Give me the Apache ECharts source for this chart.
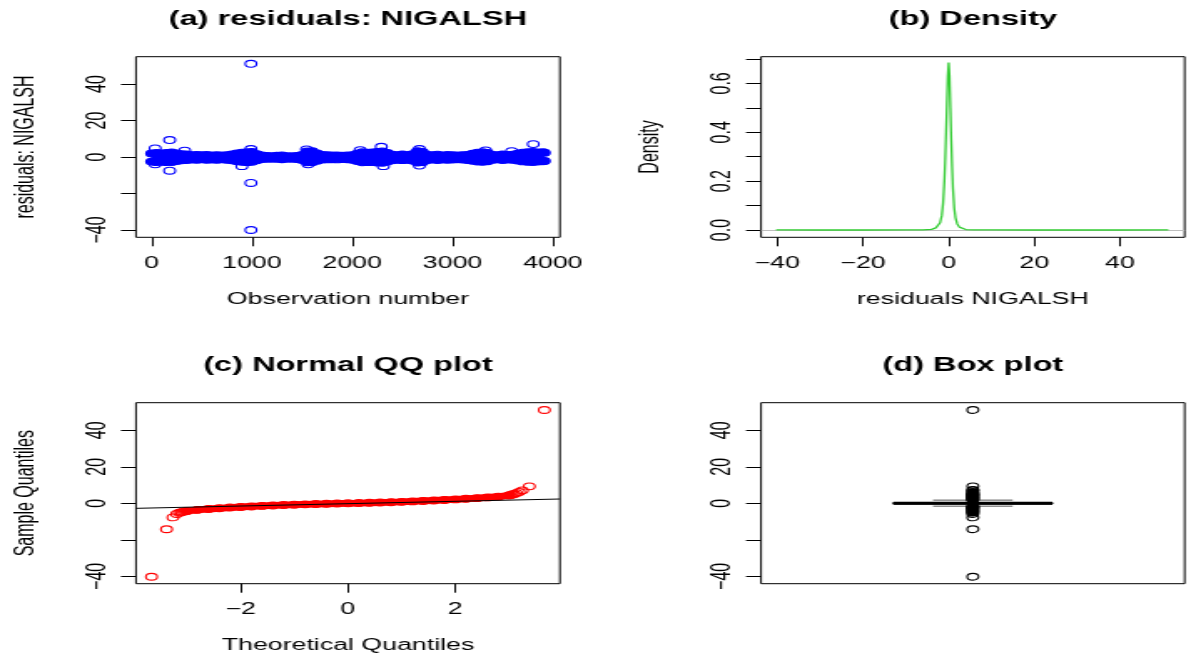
<!DOCTYPE html>
<html><head><meta charset="utf-8">
<script src="https://cdn.jsdelivr.net/npm/echarts@6/dist/echarts.min.js"></script>
<style>
html,body{margin:0;padding:0;background:#fff;overflow:hidden;width:1191px;height:659px}
#chart{width:713px;height:659px;transform:scaleX(1.670407);transform-origin:0 0}
</style></head><body><div id="chart"></div>
<script>
// ---------- data ----------
// (a) residuals vs observation number: envelope of the dense band (circle centres)
const bandObs = [1,50,100,150,200,250,300,350,400,450,500,550,600,650,700,750,800,850,900,950,1000,1050,1100,1150,1200,1250,1300,1350,1400,1450,1500,1550,1600,1650,1700,1750,1800,1850,1900,1950,2000,2050,2100,2150,2200,2250,2300,2350,2400,2450,2500,2550,2600,2650,2700,2750,2800,2850,2900,2950,3000,3050,3100,3150,3200,3250,3300,3350,3400,3450,3500,3550,3600,3650,3700,3750,3800,3850,3900,3915];
const bandUpper = [2.0,2.3,2.0,2.3,2.5,2.0,1.6,1.4,1.0,1.2, 1.0,1.1,0.9,1.0,0.8,1.0,1.4,2.0,2.4,2.6, 2.8,1.6,0.8,0.6,0.5,0.7,0.9,0.5,0.4,0.6, 1.2,3.0,3.2,2.0,1.2,1.0,0.8,0.9,0.7,0.8, 1.0,1.8,2.6,2.4,2.5,2.8,3.0,2.2,1.3,1.0, 1.4,1.0,1.6,3.2,2.8,1.2,1.0,1.3,0.9,1.1, 1.0,0.8,1.0,1.2,1.8,2.4,2.6,2.2,1.2,1.0, 1.4,1.1,1.3,1.8,2.4,2.6,2.8,2.5,2.6,2.4];
const bandLower = [-2.5,-2.8,-2.6,-2.8,-2.7,-2.2,-1.8,-1.6,-1.4,-1.5, -1.3,-1.5,-1.4,-1.5,-1.3,-1.5,-1.8,-2.3,-2.6,-2.8, -2.6,-1.8,-1.1,-1.0,-0.9,-1.0,-1.2,-0.9,-0.9,-1.1, -1.6,-2.9,-2.8,-2.0,-1.4,-1.3,-1.2,-1.3,-1.1,-1.2, -1.5,-2.2,-2.9,-2.8,-2.7,-3.0,-3.1,-2.5,-1.8,-1.5, -1.7,-1.5,-1.9,-3.0,-2.8,-1.6,-1.4,-1.6,-1.4,-1.5, -1.4,-1.2,-1.4,-1.6,-2.0,-2.5,-2.6,-2.3,-1.5,-1.3, -1.6,-1.4,-1.5,-1.9,-2.4,-2.6,-2.7,-2.5,-2.3,-2.2];
// (a) isolated residuals
const outObs = [35,35,180,180,330,900,990,990,990,990,1545,1560,2080,2290,2310,2670,2670,3805,3330,3590];
const outVal = [4.7,-4.0,9.3,-7.5,3.5,-5.0,4.4,51.1,-14.2,-40.0,4.2,-4.0,3.8,5.6,-5.0,4.4,-4.7,7.1,3.6,3.2];

// (b) kernel density
const densX = [-40.3,-30,-20,-10,-6,-4,-3,-2.5,-2,-1.6,-1.3,-1.0,-0.8,-0.6,-0.4,-0.2,0,0.2,0.4,0.6,0.8,1.0,1.3,1.6,2.0,2.5,3,4,6,10,20,30,40,51.3];
const densY = [0.0005,0.0003,0.0003,0.0005,0.001,0.003,0.009,0.016,0.03,0.06,0.11,0.2,0.29,0.4,0.52,0.63,0.685,0.63,0.5,0.37,0.26,0.17,0.09,0.05,0.025,0.012,0.006,0.002,0.0008,0.0004,0.0003,0.0003,0.0003,0.0004];

// (c) normal QQ plot
const qqBandTheo = [-3.0,-2.8,-2.6,-2.4,-2.2,-2.0,-1.8,-1.6,-1.4,-1.2,-1.0,-0.8,-0.6,-0.4,-0.2,0,0.2,0.4,0.6,0.8,1.0,1.2,1.4,1.6,1.8,2.0,2.2,2.4,2.6,2.8,3.0];
const qqBandSample = [-4.2,-3.6,-3.1,-2.7,-2.3,-2.0,-1.7,-1.4,-1.15,-0.95,-0.75,-0.55,-0.4,-0.25,-0.1,0.02,0.15,0.3,0.45,0.62,0.82,1.05,1.3,1.55,1.85,2.15,2.5,2.85,3.25,3.7,4.3];
const qqTailTheo = [-3.66,-3.38,-3.26,-3.19,-3.14,-3.10,-3.06,-3.03,3.03,3.06,3.10,3.14,3.19,3.25,3.38,3.66];
const qqTailSample = [-40.2,-14.2,-7.7,-5.8,-5.1,-4.8,-4.6,-4.4,4.5,4.8,5.1,5.6,6.2,7.1,9.3,51.1];
const qqLineTheo = [-3.95,3.95];
const qqLineSample = [-2.74,2.37];

// (d) box plot: [lower whisker, Q1, median, Q3, upper whisker] and outliers
const boxStats = [-1.55,-0.42,0.02,0.46,1.75];
const boxOutliersCluster = [6.2,5.6,5.1,4.8,4.5,4.2,3.8,3.4,3.0,2.6,2.2,1.9,-1.7,-2.0,-2.3,-2.7,-3.1,-3.6,-4.2,-4.6,-5.1];
const boxOutliersSingle = [51.1,9.3,7.3,7.1,-5.8,-7.7,-14.2,-40.2];

// ticks and labels
const resTicks = [-40,-20,0,20,40];
const resLabels = [-40,0,20,40];
const obsTicks = [0,1000,2000,3000,4000];
const densXTicks = [-40,-20,0,20,40];
const densYTicks = [0,0.1,0.2,0.3,0.4,0.5,0.6,0.7];
const densYLabels = [0,0.2,0.4,0.6];
const qqXTicks = [-2,0,2];

const titles = ['(a) residuals: NIGALSH','(b) Density','(c) Normal QQ plot','(d) Box plot'];

// ---------- layout / style ----------
const FONT = 'Liberation Sans';
const BOX_POS = 1, BOX_HALF = 0.1877, STAPLE_HALF = 0.094;
const RING_R = 3.4, RING_W = 1.1;
const fmtNum = d => v => (v < 0 ? '\u2212' : '') + Math.abs(v).toFixed(d);
const grids = [
  {left:81.4, top:56.7, width:253.8, height:180.6},
  {left:455.6, top:56.7, width:253.6, height:180.6},
  {left:81.4, top:402.7, width:253.8, height:181},
  {left:455.6, top:402.7, width:253.6, height:181}
].map(g => Object.assign({show:true, borderColor:'#000', borderWidth:1, backgroundColor:'transparent', containLabel:false}, g));

function xAx(gi, min, max, ticks, name, dec) {
  return {type:'value', gridIndex:gi, min, max, name, nameLocation:'middle', nameGap:54,
    nameTextStyle:{fontSize:16, color:'#000', fontFamily:FONT},
    axisLine:{show:false, onZero:false}, splitLine:{show:false},
    axisTick:{show:true, length:9, customValues:ticks, lineStyle:{color:'#000', width:1}},
    axisLabel:{show:true, customValues:ticks, margin:18, fontSize:16, color:'#000', fontFamily:FONT, formatter:fmtNum(dec)}};
}
function yAx(gi, min, max, ticks, labels, name, dec) {
  return {type:'value', gridIndex:gi, min, max, name, nameLocation:'middle', nameGap:58,
    nameTextStyle:{fontSize:16, color:'#000', fontFamily:FONT},
    axisLine:{show:false, onZero:false}, splitLine:{show:false},
    axisTick:{show:true, length:9, customValues:ticks, lineStyle:{color:'#000', width:1}},
    axisLabel:{show:true, customValues:labels, rotate:90, margin:15, fontSize:16, color:'#000', fontFamily:FONT, formatter:fmtNum(dec)}};
}

// circles (R pch = 1) drawn through the axes' scales; fill mimics heavy over-plotting
function rings(xi, yi, data, color, z, fill) {
  return {type:'custom', xAxisIndex:xi, yAxisIndex:yi, silent:true, z, data, encode:{x:0, y:1},
    renderItem:(params, api) => {
      const c = api.coord([api.value(0), api.value(1)]);
      return {type:'circle', shape:{cx:c[0], cy:c[1], r:RING_R}, style:{fill:fill || 'none', stroke:color, lineWidth:RING_W}};
    }};
}

const option = {
  animation:false,
  textStyle:{fontFamily:FONT},
  grid: grids,
  xAxis: [
    xAx(0, -156, 4071, obsTicks, 'Observation number', 0),
    xAx(1, -43.8, 55.1, densXTicks, 'residuals NIGALSH', 0),
    xAx(2, -3.95, 3.95, qqXTicks, 'Theoretical Quantiles', 0),
    {type:'value', gridIndex:3, min:0.5, max:1.5, show:false, splitLine:{show:false}, axisLine:{onZero:false}}
  ],
  yAxis: [
    yAx(0, -44, 55, resTicks, resLabels, 'residuals: NIGALSH', 0),
    yAx(1, -0.0296, 0.709, densYTicks, densYLabels, 'Density', 1),
    yAx(2, -44, 55.1, resTicks, resLabels, 'Sample Quantiles', 0),
    yAx(3, -44, 55.1, resTicks, resLabels, '', 0)
  ],
  graphic: titles.map((t, i) => ({
    type:'text', x: (i % 2 === 0 ? 208.3 : 582.4), y: (i < 2 ? 19.5 : 366),
    style:{text:t, fontSize:19.5, fontWeight:'bold', fontFamily:FONT, fill:'#000', align:'center', verticalAlign:'middle'}
  })),
  series: [
    // (a) dense band fill
    {type:'custom', xAxisIndex:0, yAxisIndex:0, silent:true, z:2,
      data:[[bandObs[0], bandUpper[0]]], encode:{x:0, y:1},
      renderItem:(params, api) => {
        const pts = [];
        for (let i = 0; i < bandObs.length; i++) pts.push(api.coord([bandObs[i], bandUpper[i]]));
        for (let i = bandObs.length - 1; i >= 0; i--) pts.push(api.coord([bandObs[i], bandLower[i]]));
        return {type:'polygon', shape:{points:pts}, style:{fill:'#0000FF', stroke:'#0000FF', lineWidth:1}};
      }},
    // (a) band edge circles (over-plotted, so solid)
    rings(0, 0, bandObs.map((x, i) => [x, bandUpper[i]]).concat(bandObs.map((x, i) => [x, bandLower[i]])), '#0000FF', 3, '#0000FF'),
    // (a) isolated residuals
    rings(0, 0, outObs.map((x, i) => [x, outVal[i]]), '#0000FF', 3),
    // (b) density curve
    {type:'line', xAxisIndex:1, yAxisIndex:1, silent:true, z:3, showSymbol:false, symbol:'none',
      lineStyle:{color:'#33CC33', width:1.3}, data: densX.map((x, i) => [x, densY[i]]),
      markLine:{silent:true, symbol:['none','none'], label:{show:false}, z:2,
        lineStyle:{color:'#BEBEBE', type:'solid', width:1}, data:[{yAxis:0}]}},
    // (c) dense part of QQ points: merged band
    {type:'line', xAxisIndex:2, yAxisIndex:2, silent:true, z:3, showSymbol:false, symbol:'none',
      lineStyle:{color:'#FF0000', width:6.8}, data: qqBandTheo.map((x, i) => [x, qqBandSample[i]])},
    rings(2, 2, qqBandTheo.map((x, i) => [x, qqBandSample[i]]), '#FF0000', 3, '#FF0000'),
    // (c) tail QQ points
    rings(2, 2, qqTailTheo.map((x, i) => [x, qqTailSample[i]]), '#FF0000', 3),
    // (c) qq line
    {type:'line', xAxisIndex:2, yAxisIndex:2, silent:true, z:5, showSymbol:false, symbol:'none',
      lineStyle:{color:'#000', width:1}, data: qqLineTheo.map((x, i) => [x, qqLineSample[i]])},
    // (d) box
    {type:'custom', xAxisIndex:3, yAxisIndex:3, silent:true, z:3,
      data:[[BOX_POS, boxStats[2]]], encode:{x:0, y:1},
      renderItem:(params, api) => {
        const [lo, q1, med, q3, hi] = boxStats;
        const p = (x, y) => api.coord([x, y]);
        const ln = (x1, y1, x2, y2, st) => {
          const a = p(x1, y1), b = p(x2, y2);
          return {type:'line', shape:{x1:a[0], y1:a[1], x2:b[0], y2:b[1]}, style:st};
        };
        const tl = p(BOX_POS - BOX_HALF, q3), br = p(BOX_POS + BOX_HALF, q1);
        return {type:'group', children:[
          ln(BOX_POS, q3, BOX_POS, hi, {stroke:'#000', lineWidth:1, lineDash:[3,3]}),
          ln(BOX_POS, q1, BOX_POS, lo, {stroke:'#000', lineWidth:1, lineDash:[3,3]}),
          ln(BOX_POS - STAPLE_HALF, hi, BOX_POS + STAPLE_HALF, hi, {stroke:'#555', lineWidth:1}),
          ln(BOX_POS - STAPLE_HALF, lo, BOX_POS + STAPLE_HALF, lo, {stroke:'#555', lineWidth:1}),
          {type:'rect', shape:{x:tl[0], y:tl[1], width:br[0]-tl[0], height:br[1]-tl[1]}, style:{fill:'none', stroke:'#000', lineWidth:1}},
          ln(BOX_POS - BOX_HALF, med, BOX_POS + BOX_HALF, med, {stroke:'#000', lineWidth:3})
        ]};
      }},
    // (d) outliers: heavily over-plotted cluster, then the separate ones
    rings(3, 3, boxOutliersCluster.map(v => [BOX_POS, v]), '#000', 4, '#000'),
    rings(3, 3, boxOutliersSingle.map(v => [BOX_POS, v]), '#000', 4)
  ]
};
const chart = echarts.init(document.getElementById('chart'), null, {renderer:'canvas'});
chart.setOption(option);
</script></body></html>
